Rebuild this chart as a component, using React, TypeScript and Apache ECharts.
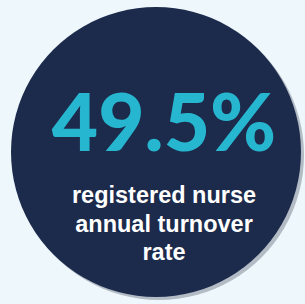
import React, { useEffect, useRef } from "react";
import * as echarts from "echarts";

const statValue = ["49.5%"];
const labelLines = ["registered nurse", "annual turnover", "rate"];

export default function App() {
  const ref = useRef<HTMLDivElement>(null);
  useEffect(() => {
    if (!ref.current) return;
    const chart = echarts.init(ref.current, undefined, { renderer: "svg" });
    const cx = 156;
    const cy = 152;
    const r = 145;
    const elements: any[] = [
      {
        type: "circle",
        shape: { cx: cx + 3, cy: cy + 3, r },
        style: { fill: "#b3bcc5" },
        silent: true,
      },
      {
        type: "circle",
        shape: { cx, cy, r },
        style: { fill: "#1c2a4b" },
        silent: true,
      },
      {
        type: "text",
        x: 164,
        y: 120,
        style: {
          text: statValue[0],
          fill: "#27b6d0",
          font: "900 80px Lato",
          textAlign: "center",
          textVerticalAlign: "middle",
        },
        silent: true,
      },
    ];
    labelLines.forEach((line, i) => {
      elements.push({
        type: "text",
        x: 164,
        y: 195 + i * 28.5,
        style: {
          text: line,
          fill: "#ffffff",
          font: "bold 23.5px 'Liberation Sans'",
          textAlign: "center",
          textVerticalAlign: "middle",
        },
        silent: true,
      });
    });
    chart.setOption({
      animation: false,
      backgroundColor: "#edf7fc",
      graphic: { elements },
    });
    return () => chart.dispose();
  }, []);
  return (
    <div
      ref={ref}
      style={{ position: "fixed", left: 0, top: 0, width: 305, height: 304 }}
    />
  );
}
